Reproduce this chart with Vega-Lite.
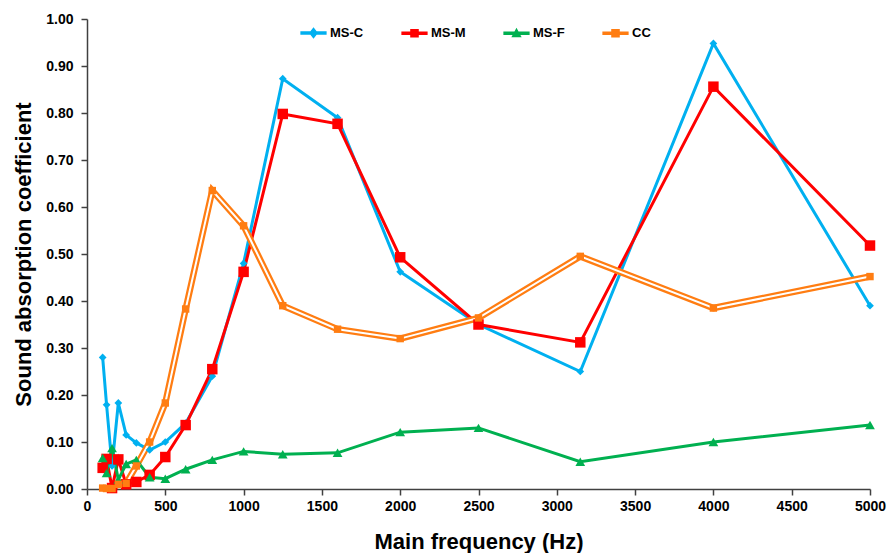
{
  "$schema": "https://vega.github.io/schema/vega-lite/v6.json",
  "width": 783,
  "height": 470,
  "autosize": {"type": "none"},
  "padding": {"left": 87, "top": 19, "right": 17, "bottom": 64},
  "background": "white",
  "config": {
    "view": {"stroke": null},
    "font": "Liberation Sans",
    "axis": {
      "labelFont": "Liberation Sans",
      "labelFontWeight": "bold",
      "labelFontSize": 14,
      "labelColor": "black",
      "titleFont": "Liberation Sans",
      "titleFontWeight": "bold",
      "titleColor": "black",
      "domainColor": "#404040",
      "domainWidth": 1.5,
      "tickColor": "#404040",
      "tickWidth": 1.5,
      "tickSize": 6,
      "grid": false
    }
  },
  "data": {
    "values": [
      {"f": 100, "s": "MS-C", "v": 0.28},
      {"f": 125, "s": "MS-C", "v": 0.179},
      {"f": 160, "s": "MS-C", "v": 0.049},
      {"f": 200, "s": "MS-C", "v": 0.183},
      {"f": 250, "s": "MS-C", "v": 0.115},
      {"f": 315, "s": "MS-C", "v": 0.098},
      {"f": 400, "s": "MS-C", "v": 0.083},
      {"f": 500, "s": "MS-C", "v": 0.1},
      {"f": 630, "s": "MS-C", "v": 0.14},
      {"f": 800, "s": "MS-C", "v": 0.24},
      {"f": 1000, "s": "MS-C", "v": 0.48},
      {"f": 1250, "s": "MS-C", "v": 0.873},
      {"f": 1600, "s": "MS-C", "v": 0.79},
      {"f": 2000, "s": "MS-C", "v": 0.462},
      {"f": 2500, "s": "MS-C", "v": 0.35},
      {"f": 3150, "s": "MS-C", "v": 0.25},
      {"f": 4000, "s": "MS-C", "v": 0.948},
      {"f": 5000, "s": "MS-C", "v": 0.39},
      {"f": 100, "s": "MS-M", "v": 0.045},
      {"f": 125, "s": "MS-M", "v": 0.064},
      {"f": 160, "s": "MS-M", "v": 0.002},
      {"f": 200, "s": "MS-M", "v": 0.063},
      {"f": 250, "s": "MS-M", "v": 0.01},
      {"f": 315, "s": "MS-M", "v": 0.015},
      {"f": 400, "s": "MS-M", "v": 0.03},
      {"f": 500, "s": "MS-M", "v": 0.068},
      {"f": 630, "s": "MS-M", "v": 0.136},
      {"f": 800, "s": "MS-M", "v": 0.255},
      {"f": 1000, "s": "MS-M", "v": 0.462},
      {"f": 1250, "s": "MS-M", "v": 0.798},
      {"f": 1600, "s": "MS-M", "v": 0.777},
      {"f": 2000, "s": "MS-M", "v": 0.493},
      {"f": 2500, "s": "MS-M", "v": 0.35},
      {"f": 3150, "s": "MS-M", "v": 0.312},
      {"f": 4000, "s": "MS-M", "v": 0.856},
      {"f": 5000, "s": "MS-M", "v": 0.518},
      {"f": 100, "s": "MS-F", "v": 0.066},
      {"f": 125, "s": "MS-F", "v": 0.034},
      {"f": 160, "s": "MS-F", "v": 0.087},
      {"f": 200, "s": "MS-F", "v": 0.02},
      {"f": 250, "s": "MS-F", "v": 0.053},
      {"f": 315, "s": "MS-F", "v": 0.062},
      {"f": 400, "s": "MS-F", "v": 0.025},
      {"f": 500, "s": "MS-F", "v": 0.022},
      {"f": 630, "s": "MS-F", "v": 0.042},
      {"f": 800, "s": "MS-F", "v": 0.062},
      {"f": 1000, "s": "MS-F", "v": 0.08},
      {"f": 1250, "s": "MS-F", "v": 0.074},
      {"f": 1600, "s": "MS-F", "v": 0.077},
      {"f": 2000, "s": "MS-F", "v": 0.121},
      {"f": 2500, "s": "MS-F", "v": 0.13},
      {"f": 3150, "s": "MS-F", "v": 0.058},
      {"f": 4000, "s": "MS-F", "v": 0.1},
      {"f": 5000, "s": "MS-F", "v": 0.136},
      {"f": 100, "s": "CC", "v": 0.002},
      {"f": 125, "s": "CC", "v": 0.001},
      {"f": 160, "s": "CC", "v": 0.001},
      {"f": 200, "s": "CC", "v": 0.01},
      {"f": 250, "s": "CC", "v": 0.012},
      {"f": 315, "s": "CC", "v": 0.049},
      {"f": 400, "s": "CC", "v": 0.1},
      {"f": 500, "s": "CC", "v": 0.183},
      {"f": 630, "s": "CC", "v": 0.383},
      {"f": 800, "s": "CC", "v": 0.635},
      {"f": 1000, "s": "CC", "v": 0.56},
      {"f": 1250, "s": "CC", "v": 0.39},
      {"f": 1600, "s": "CC", "v": 0.34},
      {"f": 2000, "s": "CC", "v": 0.32},
      {"f": 2500, "s": "CC", "v": 0.364},
      {"f": 3150, "s": "CC", "v": 0.495},
      {"f": 4000, "s": "CC", "v": 0.385},
      {"f": 5000, "s": "CC", "v": 0.452}
    ]
  },
  "encoding": {
    "x": {
      "field": "f", "type": "quantitative",
      "scale": {"domain": [0, 5000], "nice": false, "zero": true},
      "axis": {"values": [0,500,1000,1500,2000,2500,3000,3500,4000,4500,5000], "format": "d", "title": "Main frequency (Hz)", "titleFontSize": 22, "titlePadding": 18, "labelPadding": 4, "labelFlush": false}
    },
    "y": {
      "field": "v", "type": "quantitative",
      "scale": {"domain": [0, 1], "nice": false},
      "axis": {"values": [0,0.1,0.2,0.3,0.4,0.5,0.6,0.7,0.8,0.9,1.0], "format": ".2f", "title": "Sound absorption coefficient", "titleFontSize": 22, "titlePadding": 10, "labelPadding": 8}
    },
    "color": {"field": "s", "type": "nominal", "scale": {"domain": ["MS-C","MS-M","MS-F","CC"], "range": ["#00B0F0","#FF0000","#00B050","#FF7D12"]},
      "legend": {
        "title": null, "orient": "none", "legendX": 220, "legendY": 7, "direction": "horizontal", "columns": 4,
        "columnPadding": 35, "padding": 0, "symbolSize": 50, "labelOffset": 10,
        "labelFont": "Liberation Sans", "labelFontWeight": "bold", "labelFontSize": 13, "labelColor": "black"
      }
    }
  },
  "layer": [
    {
      "transform": [{"filter": "datum.s !== 'CC'"}],
      "mark": {"type": "line", "strokeWidth": 3},
      "encoding": {}
    },
    {
      "transform": [{"filter": "datum.s === 'CC'"}],
      "mark": {"type": "line", "strokeWidth": 6.5},
      "encoding": {}
    },
    {
      "transform": [{"filter": "datum.s === 'CC'"}],
      "mark": {"type": "line", "strokeWidth": 2},
      "encoding": {"color": {"value": "white"}}
    },
    {
      "transform": [{"filter": "datum.s === 'MS-C'"}],
      "mark": {"type": "point", "filled": true, "opacity": 1, "shape": "diamond", "size": 60},
      "encoding": {}
    },
    {
      "transform": [{"filter": "datum.s === 'MS-M'"}],
      "mark": {"type": "point", "filled": true, "opacity": 1, "shape": "square", "size": 110},
      "encoding": {}
    },
    {
      "transform": [{"filter": "datum.s === 'MS-F'"}],
      "mark": {"type": "point", "filled": true, "opacity": 1, "shape": "triangle-up", "size": 95},
      "encoding": {}
    },
    {
      "transform": [{"filter": "datum.s === 'CC'"}],
      "mark": {"type": "point", "filled": true, "opacity": 1, "shape": "square", "size": 55},
      "encoding": {}
    },
    {
      "transform": [{"filter": "false"}],
      "mark": {"type": "point", "filled": true, "opacity": 1},
      "encoding": {
        "shape": {"field": "s", "type": "nominal", "scale": {"domain": ["MS-C","MS-M","MS-F","CC"], "range": ["M-3.5,-0.3H3.5V0.3H-3.5Z M0,-1.3L1,0L0,1.3L-1,0Z", "M-3.5,-0.3H3.5V0.3H-3.5Z M-1,-1H1V1H-1Z", "M-3.5,-0.3H3.5V0.3H-3.5Z M0,-1.1L1.1,0.9H-1.1Z", "M-3.5,-0.3H3.5V0.3H-3.5Z M-1,-1H1V1H-1Z"]}}
      }
    }
  ]
}
